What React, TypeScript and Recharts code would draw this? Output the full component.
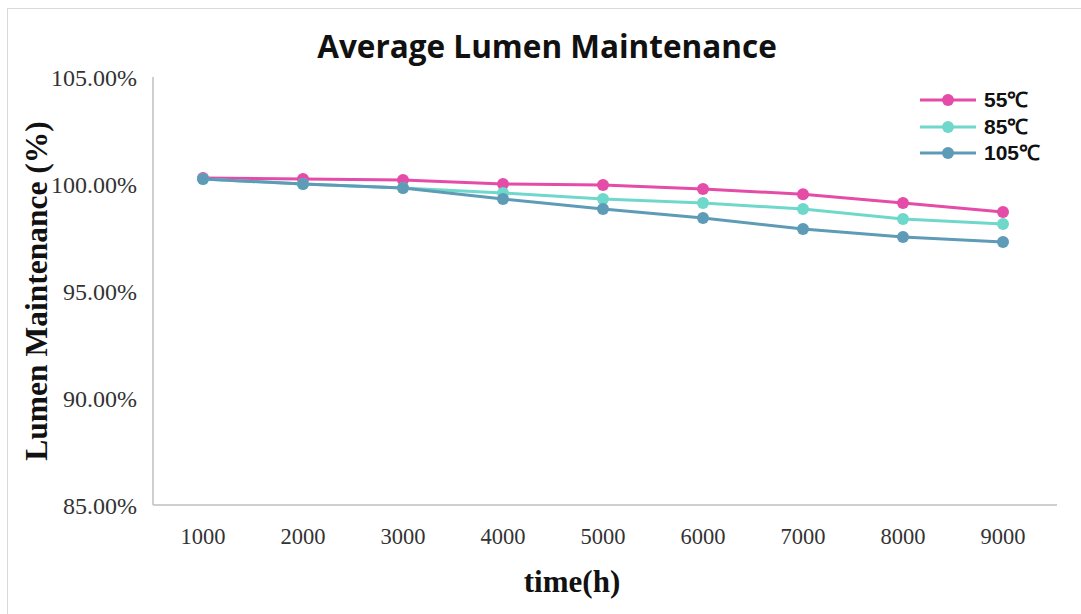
import React from "react";
import { LineChart, Line, XAxis, YAxis, Label } from "recharts";

const times = ["1000", "2000", "3000", "4000", "5000", "6000", "7000", "8000", "9000"];
const t55 = [100.28, 100.23, 100.19, 100.0, 99.95, 99.77, 99.52, 99.11, 98.69];
const t85 = [100.23, 100.0, 99.81, 99.58, 99.3, 99.11, 98.83, 98.36, 98.13];
const t105 = [100.23, 100.0, 99.81, 99.3, 98.83, 98.41, 97.9, 97.52, 97.29];
const yTicks = [85, 90, 95, 100, 105];

const series = [
  { key: "t55", name: "55℃", color: "#E44CA8" },
  { key: "t85", name: "85℃", color: "#6FD8CB" },
  { key: "t105", name: "105℃", color: "#5E9BB6" },
];

const data = times.map((time, i) => ({
  time,
  t55: t55[i],
  t85: t85[i],
  t105: t105[i],
}));

const serif = '"Liberation Serif", "Times New Roman", serif';
const sans = '"Open Sans", "Noto Sans", sans-serif';

function LegendBox() {
  return (
    <div
      style={{
        position: "absolute",
        left: 918,
        top: 87,
        fontFamily: '"Liberation Sans", Arial, sans-serif',
        fontWeight: 700,
        fontSize: 21,
        lineHeight: "24px",
        color: "#111",
      }}
    >
      {series.map((s) => (
        <div key={s.key} style={{ display: "flex", alignItems: "center", height: 26.5 }}>
          <svg width={60} height={14} style={{ marginRight: 6 }}>
            <line x1={2} y1={7} x2={58} y2={7} stroke={s.color} strokeWidth={3} />
            <circle cx={30} cy={7} r={6} fill={s.color} />
          </svg>
          <span>{s.name}</span>
        </div>
      ))}
    </div>
  );
}

export default function App() {
  return (
    <div
      style={{
        position: "absolute",
        left: 0,
        top: 0,
        width: 1081,
        height: 614,
        background: "#fff",
        overflow: "hidden",
      }}
    >
      <div
        style={{
          position: "absolute",
          left: 7,
          top: 8,
          width: 1090,
          height: 620,
          border: "1px solid #d9d9d9",
        }}
      />
      <div
        style={{
          position: "absolute",
          left: 0,
          top: 24,
          width: 1094,
          textAlign: "center",
          fontFamily: sans,
          fontWeight: 700,
          fontSize: 31.5,
          color: "#111",
        }}
      >
        Average Lumen Maintenance
      </div>
      <LineChart
        width={1081}
        height={614}
        data={data}
        margin={{ top: 77, right: 24, bottom: 49, left: 0 }}
      >
        <XAxis
          dataKey="time"
          height={60}
          padding={{ left: 50, right: 54 }}
          axisLine={{ stroke: "#bfbfbf", strokeWidth: 1.5 }}
          tickLine={false}
          tickSize={0}
          tickMargin={23}
          tick={{ fontFamily: serif, fontSize: 22.5, fill: "#333" }}
        >
          <Label
            content={(props: any) => {
              const vb = props.viewBox;
              return (
                <text
                  x={vb.x + vb.width / 2 - 33}
                  y={vb.y + 87}
                  textAnchor="middle"
                  fontFamily={serif}
                  fontWeight={700}
                  fontSize={31}
                  fill="#111"
                >
                  time(h)
                </text>
              );
            }}
          />
        </XAxis>
        <YAxis
          type="number"
          domain={[85, 105]}
          ticks={yTicks}
          width={153}
          axisLine={{ stroke: "#bfbfbf", strokeWidth: 1.5 }}
          tickLine={false}
          tickSize={0}
          tickMargin={16}
          tickFormatter={(v: number) => v.toFixed(2) + "%"}
          tick={{ fontFamily: serif, fontSize: 24, fill: "#333" }}
        >
          <Label
            content={(props: any) => {
              const vb = props.viewBox;
              const cx = vb.x + 36;
              const cy = vb.y + vb.height / 2;
              return (
                <text
                  x={cx}
                  y={cy}
                  transform={`rotate(-90 ${cx} ${cy})`}
                  textAnchor="middle"
                  dominantBaseline="central"
                  fontFamily={serif}
                  fontWeight={700}
                  fontSize={31.5}
                  fill="#111"
                >
                  Lumen Maintenance (%)
                </text>
              );
            }}
          />
        </YAxis>
        {series.map((s) => (
          <Line
            key={s.key}
            type="linear"
            dataKey={s.key}
            name={s.name}
            stroke={s.color}
            strokeWidth={3}
            dot={{ r: 6, fill: s.color, stroke: s.color, strokeWidth: 0 }}
            activeDot={false}
            isAnimationActive={false}
          />
        ))}
      </LineChart>
      <LegendBox />
    </div>
  );
}
